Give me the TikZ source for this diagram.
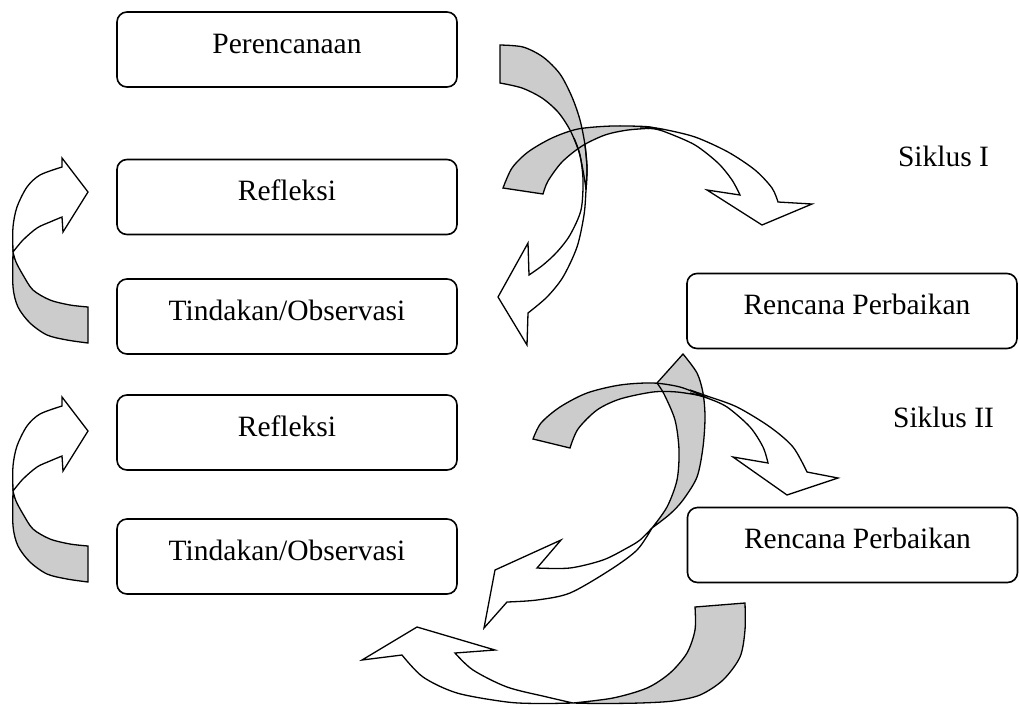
\documentclass[tikz,border=0pt]{standalone}
\usepackage{fontspec}
\setmainfont{Liberation Serif}
\usepackage{tikz}
\tikzset{%
  every stage/.style={
    draw,
    rounded corners=10pt,
    line width=1.6pt,
    minimum width=340pt,
    minimum height=75pt,
    inner sep=0pt,
    text height=41pt,
    text depth=34pt,
    font=\fontsize{29.5}{34}\selectfont
  },
  stage right/.style={
    minimum width=330pt
  },
  cycle label/.style={
    anchor=base,
    font=\fontsize{29.5}{34}\selectfont
  },
  arrow back/.style={fill=black!20},
  arrow front/.style={fill=white},
  arrow line/.style={line width=1.3pt, line join=miter}
}

% outlines of the bent block arrows (back = grey side, front = white side)
\newcommand{\bendAback}{(500,45) -- (500,83) -- plot[smooth] coordinates {(500,83) (522,88) (542,98) (558,112) (570,130) (579,152) (584,176) (586,190)} -- plot[smooth] coordinates {(586,190) (587,168) (585,145) (580,120) (572,97) (560,74) (543,57) (523,47) (500,45)}}
\newcommand{\bendAfront}{plot[smooth] coordinates {(574,138) (580,155) (583,180) (581,210) (570,235) (557,252) (543,265) (529,275)} -- (528,243) -- (498,297) -- (527,345) -- (528,313) -- plot[smooth] coordinates {(528,313) (547,297) (563,277) (577,247) (584,215) (586,190) (587,168) (585,145)}}
\newcommand{\bendBback}{(503,188) -- (543,194) -- plot[smooth] coordinates {(543,194) (548,181) (562,162) (582,146) (605,135) (628,130) (655,128)} -- plot[smooth] coordinates {(655,128) (645,126.5) (612,126) (578,129) (552,138) (528,152) (512,168) (503,188)}}
\newcommand{\bendBfront}{plot[smooth] coordinates {(640,128) (655,129) (668,133) (695,145) (718,163) (732,180) (740,195)} -- (707,190) -- (762,225) -- (812,204) -- (778,202) -- plot[smooth] coordinates {(778,202) (772,188) (755,170) (728,152) (695,137) (662,129) (645,127)}}
\newcommand{\bendCback}{(683,354) -- (657,383) -- plot[smooth] coordinates {(657,383) (664,394) (675,420) (679,450) (677,480) (667,507) (652,528)} -- plot[smooth] coordinates {(652,528) (670,514) (683,500) (697,477) (703,447) (705,417) (703,393) (697,373) (683,354)}}
\newcommand{\bendCfront}{plot[smooth] coordinates {(652,528) (640,540) (627,548) (603,560) (570,568) (537,568)} -- (561,540) -- (495,570) -- (484,628) -- (507,602) -- plot[smooth] coordinates {(507,602) (537,600) (570,593) (610,570) (637,550) (652,528)}}
\newcommand{\bendEback}{(533,439) -- (570,448) -- plot[smooth] coordinates {(570,448) (578,429) (597,410) (620,399) (653,392) (677,392) (703,396)} -- plot[smooth] coordinates {(703,396) (680,387) (653,383) (620,385) (587,393) (560,407) (541,423) (533,439)}}
\newcommand{\bendEfront}{plot[smooth] coordinates {(690,393) (707,398) (727,407) (750,427) (763,447) (768,463)} -- (733,457) -- (787,495) -- (838,478) -- (807,472) -- plot[smooth] coordinates {(807,472) (793,447) (770,427) (737,407) (707,396) (690,390)}}
\newcommand{\bendDback}{(695,607) -- (745,603) -- plot[smooth] coordinates {(745,603) (745,630) (740,657) (723,680) (700,695) (673,701) (640,703) (600,703.5) (573,703)} -- plot[smooth] coordinates {(573,703) (613,698) (647,688) (670,673) (687,653) (695,630) (695,607)}}
\newcommand{\bendDfront}{plot[smooth] coordinates {(573,703) (547,697) (507,687) (473,670) (455,653)} -- (495,650) -- (417,627) -- (362,660) -- (402,655) -- plot[smooth] coordinates {(402,655) (423,677) (457,693) (507,702) (540,703.5) (573,703)}}
\newcommand{\bendFback}{(88,307) -- (88,343) -- plot[smooth] coordinates {(88,343) (67,340) (47,335) (30,323) (18,307) (13,287) (13,252)} -- plot[smooth] coordinates {(13,252) (16,262) (23,275) (33,290) (50,300) (70,305) (88,307)}}
\newcommand{\bendFfront}{plot[smooth] coordinates {(13,252) (23,240) (37,228) (50,222) (62,217)} -- (63,232) -- (88,192) -- (62,158) -- (62,167) -- plot[smooth] coordinates {(62,167) (40,175) (27,187) (17,207) (13,227) (13,252)}}

\begin{document}
\begin{tikzpicture}[x=1pt, y=-1pt]

    \useasboundingbox (0,0) rectangle (1019,705);

    \node [every stage] (plan) at (287,49.5) {Perencanaan};
    \node [every stage] (reflect-1) at (287,197) {Refleksi};
    \node [every stage] (act-1) at (287,316.5) {Tindakan/Observasi};
    \node [every stage] (reflect-2) at (287,432.5) {Refleksi};
    \node [every stage] (act-2) at (287,556.5) {Tindakan/Observasi};
    \node [every stage, stage right] (revise-1) at (852,311) {\hspace*{10pt}Rencana Perbaikan};
    \node [every stage, stage right] (revise-2) at (852.5,545) {\hspace*{10pt}Rencana Perbaikan};

    \node [cycle label] (cycle-1) at (943.5,166) {Siklus I};
    \node [cycle label] (cycle-2) at (943.5,427) {Siklus II};

    % fills first, then all edges, so crossing edges stay visible
    \fill [arrow front] \bendAfront -- cycle;
    \fill [arrow front] \bendBfront -- cycle;
    \fill [arrow front] \bendCfront -- cycle;
    \fill [arrow front] \bendEfront -- cycle;
    \fill [arrow front] \bendDfront -- cycle;
    \fill [arrow back] \bendAback -- cycle;
    \fill [arrow back] \bendBback -- cycle;
    \fill [arrow back] \bendCback -- cycle;
    \fill [arrow back] \bendEback -- cycle;
    \fill [arrow back] \bendDback -- cycle;

    \draw [arrow line] \bendAfront;
    \draw [arrow line] \bendBfront;
    \draw [arrow line] \bendCfront;
    \draw [arrow line] \bendEfront;
    \draw [arrow line] \bendDfront;
    \draw [arrow line] \bendAback -- cycle;
    \draw [arrow line] \bendBback -- cycle;
    \draw [arrow line] \bendCback -- cycle;
    \draw [arrow line] \bendEback -- cycle;
    \draw [arrow line] \bendDback -- cycle;

    \foreach \s in {0,239} {
    \begin{scope}[shift={(0,\s)}]
        \fill [arrow front] \bendFfront -- cycle;
        \fill [arrow back] \bendFback -- cycle;
        \draw [arrow line] \bendFfront;
        \draw [arrow line] \bendFback -- cycle;
    \end{scope}
    }

\end{tikzpicture}
\end{document}
